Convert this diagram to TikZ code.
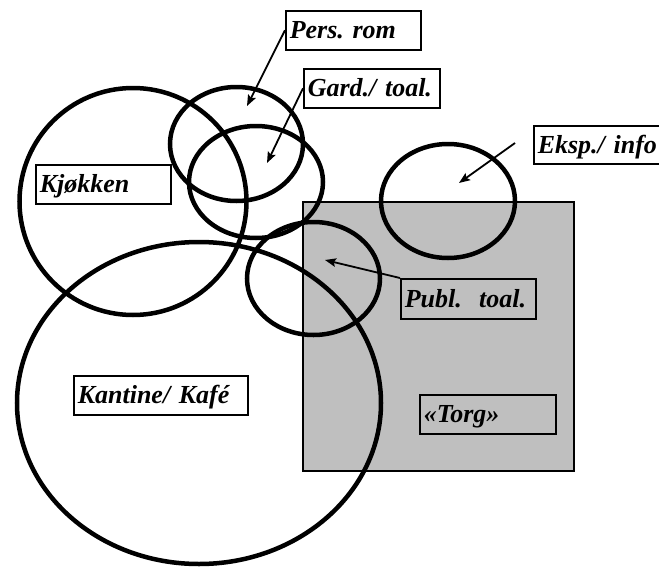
\documentclass[tikz,border=0pt]{standalone}
\usepackage{fontspec}
\setmainfont{Liberation Serif}
\usepackage{tikz}
\usetikzlibrary{shapes,arrows,arrows.meta}
\frenchspacing

\begin{document}
\begin{tikzpicture}[x=1pt, y=-1pt,
      zone/.style = {
        ellipse, draw=black, line width=4.5pt, inner sep=0pt },
      area/.style = {
        draw=black, line width=1.2pt, fill=black!25 },
      label/.style = {
        rectangle, draw=black, line width=1.5pt, anchor=north west,
        minimum height=39pt, inner xsep=4pt, text height=17pt, text depth=0pt,
        align=left, text width=#1,
        font=\bfseries\itshape\fontsize{26}{30}\selectfont },
      line/.style = { draw, line width=1.8pt, ->,
        >={Stealth[length=11pt, width=8.5pt, inset=2pt]} }]
    \useasboundingbox (0,0) rectangle (659,568);
    % the square
    \path [area] (303,202) rectangle (574,471);
    % the rooms
    \node [zone, minimum width=227pt, minimum height=227pt] (kjokken) at (133,201.5) {};
    \node [zone, minimum width=364pt, minimum height=322pt] (kantine) at (199,403) {};
    \node [zone, minimum width=133pt, minimum height=114pt] (persrom) at (236.5,144) {};
    \node [zone, minimum width=134pt, minimum height=112pt] (gardtoal) at (256,182) {};
    \node [zone, minimum width=133pt, minimum height=113pt] (publtoal) at (313.5,278.5) {};
    \node [zone, minimum width=134pt, minimum height=114pt] (eksp) at (448,201) {};
    % the labels
    \node [label=127pt] (persrom-lbl) at (285,10) {Pers. rom};
    \node [label=128pt] (gardtoal-lbl) at (303,68) {Gard./ toal.};
    \node [label=140pt, minimum height=38pt] (eksp-lbl) at (533,125) {Eksp./ info};
    \node [label=127pt] (kjokken-lbl) at (35,164) {Kjøkken};
    \node [label=166pt] (kantine-lbl) at (73,375) {Kantine/ Kafé};
    \node [label=127pt, minimum height=40pt] (publtoal-lbl) at (400,278) {Publ.~ toal.};
    \node [label=128pt] (torg-lbl) at (419,394) {«Torg»};
    % arrow ends
    \coordinate (persrom-in) at (247,106);
    \coordinate (gardtoal-in) at (267,163);
    \coordinate (eksp-from) at (515,143);
    \coordinate (eksp-in) at (459,183);
    \coordinate (publtoal-in) at (325,260);
    % connect labels to rooms
    \draw[line] (persrom-lbl.west) -> (persrom-in);
    \draw[line] (gardtoal-lbl.west) -> (gardtoal-in);
    \draw[line] (eksp-from) -> (eksp-in);
    \draw[line] (publtoal-lbl.north west) -> (publtoal-in);
  \end{tikzpicture}
\end{document}
